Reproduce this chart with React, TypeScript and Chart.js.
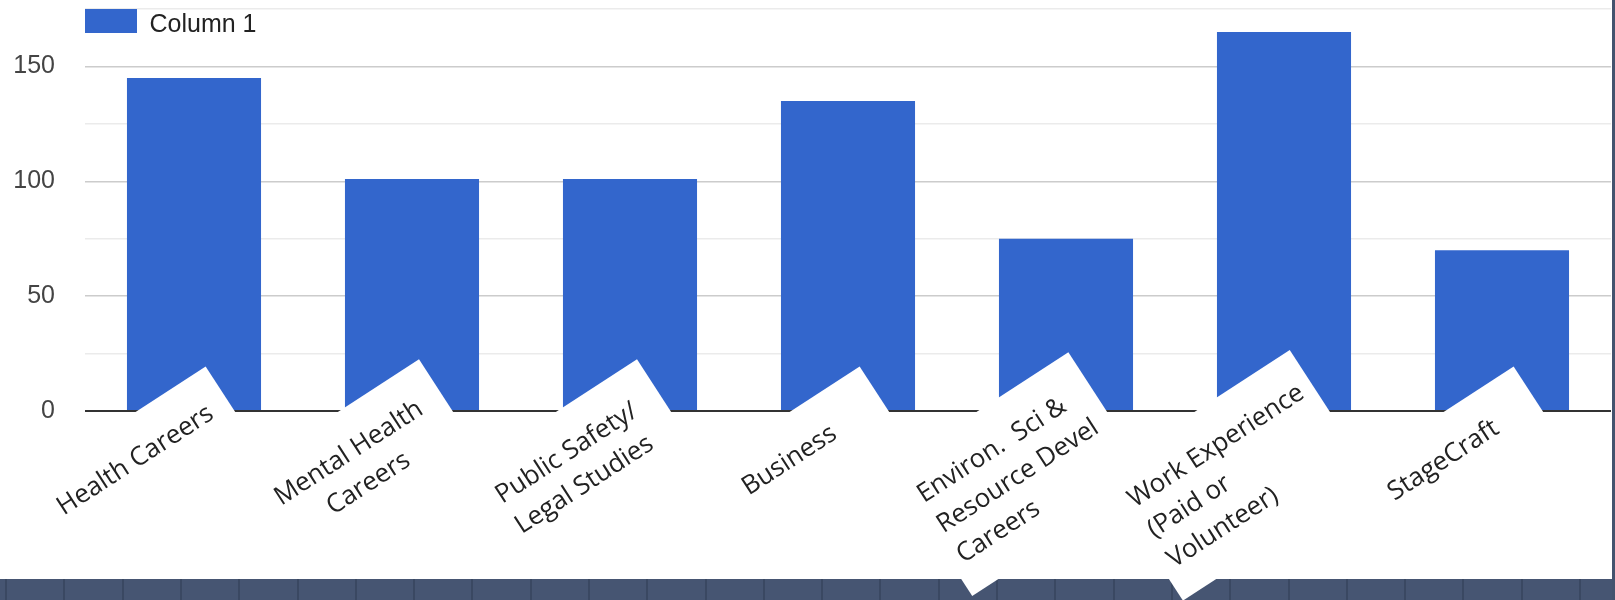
import React, { useEffect, useRef } from 'react';
import { Chart, registerables } from 'chart.js';

Chart.register(...registerables);

// ---- data ----
const categories: string[][] = [
  ['Health Careers'],
  ['Mental Health', 'Careers'],
  ['Public Safety/', 'Legal Studies'],
  ['Business'],
  ['Environ.  Sci &', 'Resource Devel', 'Careers'],
  ['Work Experience', '(Paid or', 'Volunteer)'],
  ['StageCraft'],
];
const seriesName = 'Column 1';
const values = [145, 101, 101, 135, 75, 165, 70];
const yTickLabels = [0, 50, 100, 150];
const yMin = 0;
const yMax = 175;
const yStep = 25;

// ---- styles ----
const BAR_COLOR = '#3366cc';
const LABEL_FONT = '26px "Open Sans", "Noto Sans", sans-serif';
const AXIS_FONT_FAMILY = '"Liberation Sans", Arial, sans-serif';
const LINE_ALIGN = ['left', 'center', 'left', 'left', 'left', 'left', 'left'];
const ANGLE = (33 * Math.PI) / 180;

const framePlugin = {
  id: 'frame',
  beforeDraw(chart: any) {
    const { ctx, width, height } = chart;
    ctx.save();
    ctx.fillStyle = '#465572';
    ctx.fillRect(0, 579, width, height - 579);
    ctx.fillStyle = '#3a4862';
    for (let x = 6; x < width; x += 58.3) {
      ctx.fillRect(Math.round(x) - 1, 579, 2, height - 579);
    }
    ctx.fillStyle = '#44536e';
    ctx.fillRect(width - 3, 0, 3, height);
    ctx.restore();
  },
};

const slantLabelsPlugin = {
  id: 'slantLabels',
  afterDatasetsDraw(chart: any) {
    const { ctx } = chart;
    const xs = chart.scales.x;
    const ys = chart.scales.y;
    const labels = chart.data.labels as string[][];
    const base = ys.getPixelForValue(0);
    const lineH = 36;
    ctx.save();
    ctx.font = LABEL_FONT;
    labels.forEach((lines, i) => {
      const tx = xs.getPixelForValue(i);
      const widths = lines.map((l) => ctx.measureText(l).width);
      const blockW = Math.max(...widths);
      const blockLeft = -76 - blockW / 2;
      const first = 17 - 8.5 * (lines.length - 1);
      const last = first + lineH * (lines.length - 1);
      const top = first - 48;
      const bottom = last + 32;
      const left = blockLeft - 10;
      const right = Math.max(34, blockLeft + blockW + 12);
      ctx.save();
      ctx.translate(tx, base);
      ctx.rotate(-ANGLE);
      ctx.fillStyle = '#ffffff';
      ctx.fillRect(left, top, right - left, bottom - top);
      ctx.fillStyle = '#222222';
      ctx.textAlign = 'left';
      ctx.textBaseline = 'alphabetic';
      lines.forEach((l, j) => {
        const lx = LINE_ALIGN[i] === 'center' ? blockLeft + (blockW - widths[j]) / 2 : blockLeft;
        ctx.fillText(l, lx, first + j * lineH);
      });
      ctx.restore();
    });
    ctx.restore();
  },
};

const legendPlugin = {
  id: 'topLegend',
  afterDraw(chart: any) {
    const { ctx, chartArea } = chart;
    const ds = chart.data.datasets[0];
    ctx.save();
    const x = chartArea.left;
    ctx.fillStyle = ds.backgroundColor;
    ctx.fillRect(x, 9, 52, 24);
    ctx.fillStyle = '#222222';
    ctx.font = `25px ${AXIS_FONT_FAMILY}`;
    ctx.textAlign = 'left';
    ctx.textBaseline = 'alphabetic';
    ctx.fillText(ds.label, x + 52 + 12.5, 32);
    ctx.restore();
  },
};

export default function App() {
  const ref = useRef<HTMLCanvasElement>(null);
  useEffect(() => {
    if (!ref.current) return;
    const chart = new Chart(ref.current, {
      type: 'bar',
      data: {
        labels: categories,
        datasets: [
          {
            label: seriesName,
            data: values,
            backgroundColor: BAR_COLOR,
            borderWidth: 0,
            barPercentage: 0.615,
            categoryPercentage: 1,
          },
        ],
      },
      options: {
        animation: false,
        responsive: false,
        devicePixelRatio: 1,
        layout: { padding: { top: 9, right: 4, left: 0, bottom: 0 } },
        plugins: { legend: { display: false }, tooltip: { enabled: false } },
        scales: {
          x: {
            grid: { display: false },
            border: { display: false },
            ticks: { display: false },
            afterFit: (s: any) => {
              s.height = 189;
            },
          },
          y: {
            min: yMin,
            max: yMax,
            border: { display: false },
            grid: {
              drawTicks: true,
              tickLength: 30,
              tickColor: 'rgba(0,0,0,0)',
              color: (c: any) =>
                c.tick.value === 0 ? '#333333' : c.tick.value % 50 === 0 ? '#cccccc' : '#ebebeb',
              lineWidth: (c: any) => (c.tick.value === 0 ? 2 : 1.5),
            },
            ticks: {
              stepSize: yStep,
              padding: 0,
              color: '#444444',
              font: { family: AXIS_FONT_FAMILY, size: 25, lineHeight: 0.5 },
              callback: (v: any) => (yTickLabels.includes(Number(v)) ? String(v) : ''),
            },
            afterFit: (s: any) => {
              s.width = 85;
            },
          },
        },
      },
      plugins: [framePlugin, slantLabelsPlugin, legendPlugin],
    });
    return () => chart.destroy();
  }, []);
  return (
    <div style={{ position: 'fixed', left: 0, top: 0, width: 1615, height: 600, background: '#ffffff' }}>
      <canvas ref={ref} width={1615} height={600} style={{ display: 'block', width: 1615, height: 600 }} />
    </div>
  );
}
